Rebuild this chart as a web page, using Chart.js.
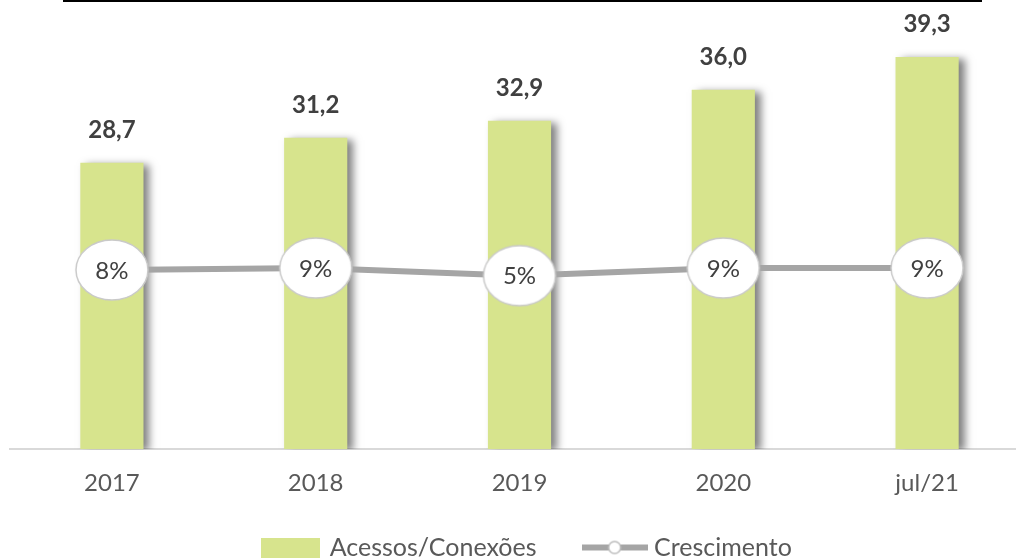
<!DOCTYPE html>
<html>
<head>
<meta charset="utf-8">
<script src="https://cdn.jsdelivr.net/npm/chart.js@4"></script>
<style>
  html, body { margin: 0; padding: 0; overflow: hidden; background: #fff; }
  #wrap { position: relative; width: 1030px; height: 604px; }
  #topline { position: absolute; left: 63px; top: 0; width: 919px; height: 2px; background: #000; }
</style>
</head>
<body>
<div id="wrap">
  <canvas id="chart" width="1030" height="604"></canvas>
  <div id="topline"></div>
</div>
<script>
// Data
const categories = ["2017", "2018", "2019", "2020", "jul/21"]
const acessos = [28.7, 31.2, 32.9, 36.0, 39.3]
const crescimento = [8, 9, 5, 9, 9]

const seriesNames = ["Acessos/Conexões", "Crescimento"]

const barColor = "#d7e48d"
const lineColor = "#a5a5a5"
const textColor = "#404040"

// Ellipse marker for the growth line
function ellipseMarker() {
  const c = document.createElement("canvas")
  c.width = 80
  c.height = 68
  const g = c.getContext("2d")
  g.beginPath()
  g.ellipse(40, 34, 36, 30, 0, 0, Math.PI * 2)
  g.fillStyle = "#fff"
  g.fill()
  g.lineWidth = 1.5
  g.strokeStyle = "#c9c9c9"
  g.stroke()
  return c
}

// Legend swatches
function barSwatch() {
  const c = document.createElement("canvas")
  c.width = 59
  c.height = 20
  const g = c.getContext("2d")
  g.fillStyle = barColor
  g.fillRect(0, 0, 59, 20)
  return c
}

function lineSwatch() {
  const c = document.createElement("canvas")
  c.width = 66
  c.height = 20
  const g = c.getContext("2d")
  g.strokeStyle = lineColor
  g.lineWidth = 6
  g.beginPath()
  g.moveTo(0, 10)
  g.lineTo(66, 10)
  g.stroke()
  g.beginPath()
  g.arc(33, 10, 6, 0, Math.PI * 2)
  g.fillStyle = "#fff"
  g.fill()
  g.lineWidth = 1.5
  g.strokeStyle = "#bdbdbd"
  g.stroke()
  return c
}

// Soft shadow to the right of the bars
const barShadow = {
  id: "barShadow",
  beforeDatasetDraw(chart, args) {
    if (args.index !== 0) return
    const ctx = chart.ctx
    ctx.save()
    ctx.shadowColor = "rgba(0,0,0,0.5)"
    ctx.shadowBlur = 8
    ctx.shadowOffsetX = 6
    ctx.shadowOffsetY = 2
  },
  afterDatasetDraw(chart, args) {
    if (args.index !== 0) return
    chart.ctx.restore()
  },
}

// Legend sits a little right of centre and tucked under the axis labels
const legendShift = {
  id: "legendShift",
  afterLayout(chart) {
    const lg = chart.legend
    lg.left += 8
    lg.right += 8
    lg.top -= 34
    lg.bottom -= 34
  },
}

// Value labels over bars and inside ellipses
const valueLabels = {
  id: "valueLabels",
  afterDatasetsDraw(chart) {
    const ctx = chart.ctx
    ctx.save()
    ctx.textAlign = "center"
    ctx.fillStyle = textColor

    ctx.font = "bold 24px Lato"
    ctx.textBaseline = "alphabetic"
    chart.getDatasetMeta(0).data.forEach((bar, i) => {
      ctx.fillText(acessos[i].toFixed(1).replace(".", ","), bar.x, bar.y - 25)
    })

    ctx.font = "24px Lato"
    ctx.textBaseline = "middle"
    chart.getDatasetMeta(1).data.forEach((pt, i) => {
      ctx.fillText(crescimento[i] + "%", pt.x, pt.y + 1)
    })
    ctx.restore()
  },
}

const swatches = [barSwatch(), lineSwatch()]

new Chart(document.getElementById("chart"), {
  type: "bar",
  data: {
    labels: categories,
    datasets: [
      {
        label: seriesNames[0],
        data: acessos,
        backgroundColor: barColor,
        barPercentage: 0.31,
        categoryPercentage: 1,
        yAxisID: "y",
        order: 2,
      },
      {
        type: "line",
        label: seriesNames[1],
        data: crescimento,
        borderColor: lineColor,
        borderWidth: 6,
        pointStyle: ellipseMarker(),
        pointRadius: 30,
        yAxisID: "y1",
        order: 1,
        clip: false,
      },
    ],
  },
  options: {
    responsive: false,
    animation: false,
    layout: { autoPadding: false, padding: { left: 10, right: 1, top: 3, bottom: 0 } },
    plugins: {
      tooltip: { enabled: false },
      legend: {
        position: "bottom",
        labels: {
          usePointStyle: true,
          pointStyleWidth: 54,
          padding: 51,
          color: "#595959",
          font: { family: "Lato", size: 25 },
          generateLabels(chart) {
            return chart.data.datasets.map((ds, i) => ({
              text: ds.label,
              pointStyle: swatches[i],
              datasetIndex: i,
              fontColor: "#595959",
              lineWidth: 0,
            }))
          },
        },
      },
    },
    scales: {
      x: {
        grid: { display: false, drawTicks: false },
        border: { display: true, color: "#d9d9d9", width: 2 },
        ticks: { color: "#595959", padding: 20, font: { family: "Lato", size: 24 } },
      },
      y: { display: false, min: 0, max: 44.7 },
      y1: { display: false, min: -86, max: 148 },
    },
  },
  plugins: [barShadow, legendShift, valueLabels],
})
</script>
</body>
</html>
